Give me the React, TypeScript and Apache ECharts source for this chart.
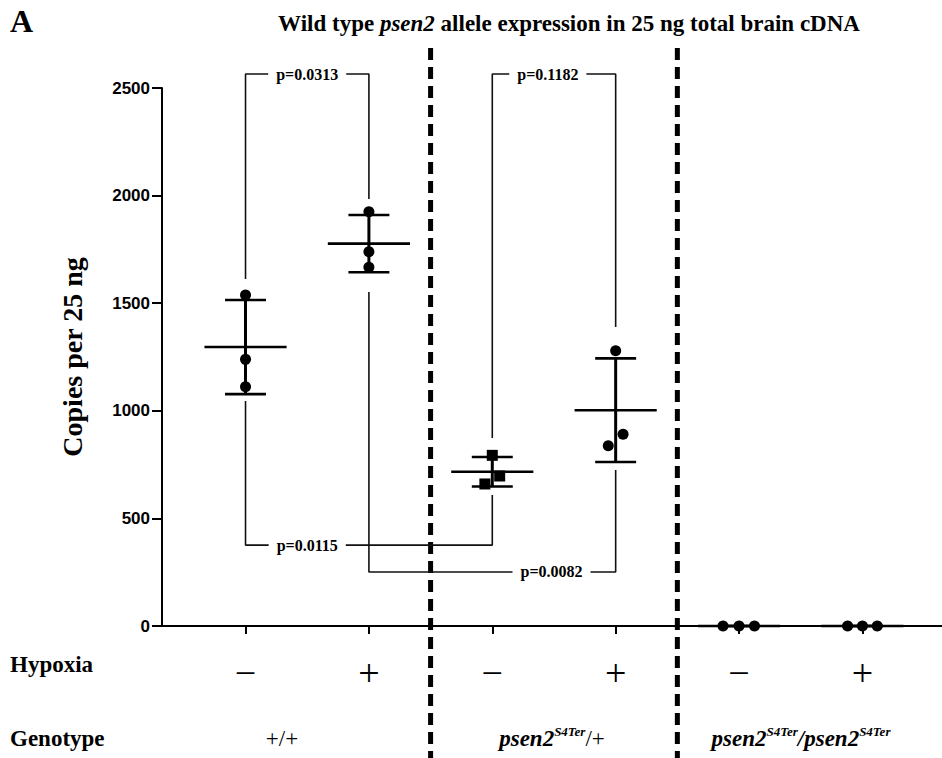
import React, { useEffect, useRef } from 'react';
import * as echarts from 'echarts';

// ---- data ----
const groupPositions = [1, 2, 3, 4, 5, 6];
const hypoxia = ['−', '+', '−', '+', '−', '+'];
const wtMinus = [1538, 1239, 1112];
const wtPlus = [1925, 1739, 1667];
const hetMinus = [793, 697, 660];
const hetPlus = [1279, 891, 838];
const homMinus = [0, 0, 0];
const homPlus = [0, 0, 0];
const groupValues = [wtMinus, wtPlus, hetMinus, hetPlus, homMinus, homPlus];
const jitter = [
  [0, 0, 0],
  [0, 0, 0],
  [0, 0.06, -0.06],
  [0, 0.06, -0.06],
  [-0.13, 0, 0.125],
  [-0.12, 0, 0.12],
];
const markerShapes = ['circle', 'circle', 'rect', 'circle', 'circle', 'circle'];
const yTicks = [0, 500, 1000, 1500, 2000, 2500];
const comparisons = [
  { p: 'p=0.0313', from: 1, to: 2, bar: 2565, fromEnd: 1612, toEnd: 1984, labelAt: 1.5 },
  { p: 'p=0.1182', from: 3, to: 4, bar: 2565, fromEnd: 874, toEnd: 1389, labelAt: 3.45 },
  { p: 'p=0.0115', from: 1, to: 3, bar: 376, fromEnd: 1046, toEnd: 609, labelAt: 1.5 },
  { p: 'p=0.0082', from: 2, to: 4, bar: 251, fromEnd: 1552, toEnd: 725, labelAt: 3.48 },
];
const separators = [2.5, 4.5];
const separatorSpan = [2686, -613];

const SERIF = 'Liberation Serif';
const SANS = 'Liberation Sans';
const INK = '#000';

export default function App() {
  const ref = useRef<HTMLDivElement>(null);
  useEffect(() => {
    if (!ref.current) return;
    const chart = echarts.init(ref.current, null, { renderer: 'svg' });

    const pointData: any[] = [];
    groupValues.forEach((vals, gi) =>
      vals.forEach((v, j) =>
        pointData.push({ value: [groupPositions[gi] + jitter[gi][j], v], symbol: markerShapes[gi] })
      )
    );
    const stats = groupValues.map((vals, gi) => {
      const m = vals.reduce((a, b) => a + b, 0) / vals.length;
      const sd = Math.sqrt(vals.reduce((a, b) => a + (b - m) * (b - m), 0) / (vals.length - 1));
      return [groupPositions[gi], m, sd];
    });

    const bracketSeries = comparisons.map((c) => ({
      type: 'line',
      data: [
        [c.from, c.fromEnd],
        [c.from, c.bar],
        [c.to, c.bar],
        [c.to, c.toEnd],
      ],
      symbol: 'none',
      clip: false,
      silent: true,
      z: 2,
      lineStyle: { color: '#111', width: 1.6 },
    }));

    const separatorSeries = separators.map((s) => ({
      type: 'line',
      data: [
        [s, separatorSpan[0]],
        [s, separatorSpan[1]],
      ],
      symbol: 'none',
      clip: false,
      silent: true,
      z: 1,
      lineStyle: { color: INK, width: 5, type: [12, 7] },
    }));

    const superRich = {
      i: { fontFamily: SERIF, fontWeight: 'bold', fontStyle: 'italic', fontSize: 23, lineHeight: 26, color: INK },
      s: { fontFamily: SERIF, fontWeight: 'bold', fontStyle: 'italic', fontSize: 13, lineHeight: 26, verticalAlign: 'top', color: INK },
      n: { fontFamily: SERIF, fontSize: 23, lineHeight: 26, color: INK },
    };

    const option: any = {
      animation: false,
      backgroundColor: '#fff',
      grid: { left: 162, right: 0, top: 88, bottom: 132, containLabel: false, outerBoundsMode: 'none' },
      xAxis: {
        type: 'value',
        min: 0.323,
        max: 6.645,
        splitLine: { show: false },
        axisLine: { show: true, onZero: false, lineStyle: { color: INK, width: 2 } },
        axisTick: { show: true, customValues: groupPositions, length: 8, lineStyle: { color: INK, width: 2 } },
        axisLabel: {
          customValues: groupPositions,
          formatter: (v: number) => hypoxia[Math.round(v) - 1] ?? '',
          fontFamily: SERIF,
          fontSize: 38,
          color: INK,
          margin: 28,
        },
      },
      yAxis: {
        type: 'value',
        min: 0,
        max: 2500,
        interval: 500,
        splitLine: { show: false },
        axisLine: { show: true, lineStyle: { color: INK, width: 2 } },
        axisTick: { show: true, length: 10, lineStyle: { color: INK, width: 2 } },
        axisLabel: {
          fontFamily: SANS,
          fontWeight: 'bold',
          fontSize: 17,
          color: INK,
          margin: 12,
          formatter: (v: number) => (yTicks.includes(v) ? String(v) : ''),
        },
        name: 'Copies per 25 ng',
        nameLocation: 'middle',
        nameGap: 76,
        nameTextStyle: { fontFamily: SERIF, fontWeight: 'bold', fontSize: 28, color: INK },
      },
      graphic: [
        {
          type: 'text',
          left: 10,
          top: 5,
          style: { text: 'A', font: `bold 32px "${SERIF}"`, fill: INK },
        },
        {
          type: 'text',
          x: 569,
          y: 23,
          style: {
            text: '{b|Wild type }{i|psen2}{b| allele expression in 25 ng total brain cDNA}',
            align: 'center',
            verticalAlign: 'middle',
            rich: {
              b: { fontFamily: SERIF, fontWeight: 'bold', fontSize: 23, color: INK },
              i: { fontFamily: SERIF, fontWeight: 'bold', fontStyle: 'italic', fontSize: 23, color: INK },
            },
          },
        },
        {
          type: 'text',
          x: 10,
          y: 664,
          style: { text: 'Hypoxia', font: `bold 23px "${SERIF}"`, fill: INK, verticalAlign: 'middle' },
        },
        {
          type: 'text',
          x: 10,
          y: 738,
          style: { text: 'Genotype', font: `bold 23px "${SERIF}"`, fill: INK, verticalAlign: 'middle' },
        },
        {
          type: 'text',
          x: 282,
          y: 738,
          style: { text: '+/+', font: `23px "${SERIF}"`, fill: INK, align: 'center', verticalAlign: 'middle' },
        },
        {
          type: 'text',
          x: 552,
          y: 738,
          style: { text: '{i|psen2}{s|S4Ter}{n|/+}', align: 'center', verticalAlign: 'middle', rich: superRich },
        },
        {
          type: 'text',
          x: 801,
          y: 738,
          style: { text: '{i|psen2}{s|S4Ter}{i|/psen2}{s|S4Ter}', align: 'center', verticalAlign: 'middle', rich: superRich },
        },
      ],
      series: [
        ...separatorSeries,
        ...bracketSeries,
        {
          type: 'scatter',
          data: comparisons.map((c) => ({ value: [c.labelAt, c.bar], name: c.p })),
          symbolSize: 1,
          itemStyle: { color: 'rgba(0,0,0,0)', opacity: 1 },
          clip: false,
          silent: true,
          z: 5,
          label: {
            show: true,
            position: 'inside',
            formatter: '{b}',
            fontFamily: SERIF,
            fontWeight: 'bold',
            fontSize: 16,
            color: INK,
            backgroundColor: '#fff',
            padding: [1, 8],
          },
        },
        {
          type: 'custom',
          data: stats,
          z: 3,
          silent: true,
          renderItem: (params: any, api: any) => {
            const x = api.value(0);
            const m = api.value(1);
            const sd = api.value(2);
            const c = api.coord([x, m]);
            const top = api.coord([x, m + sd]);
            const bot = api.coord([x, m - sd]);
            const halfMean = api.size([0.333, 0])[0];
            const halfCap = api.size([0.166, 0])[0];
            const st = { stroke: INK, lineWidth: 2.6 };
            return {
              type: 'group',
              children: [
                { type: 'line', shape: { x1: c[0] - halfMean, y1: c[1], x2: c[0] + halfMean, y2: c[1] }, style: st },
                { type: 'line', shape: { x1: top[0], y1: top[1], x2: bot[0], y2: bot[1] }, style: { stroke: INK, lineWidth: 3 } },
                { type: 'line', shape: { x1: top[0] - halfCap, y1: top[1], x2: top[0] + halfCap, y2: top[1] }, style: st },
                { type: 'line', shape: { x1: bot[0] - halfCap, y1: bot[1], x2: bot[0] + halfCap, y2: bot[1] }, style: st },
              ],
            };
          },
        },
        {
          type: 'scatter',
          data: pointData,
          symbolSize: 11,
          itemStyle: { color: INK, opacity: 1 },
          clip: false,
          z: 4,
        },
      ],
    };
    chart.setOption(option);
    return () => chart.dispose();
  }, []);
  return <div ref={ref} style={{ position: 'fixed', left: 0, top: 0, width: 942, height: 758 }} />;
}
